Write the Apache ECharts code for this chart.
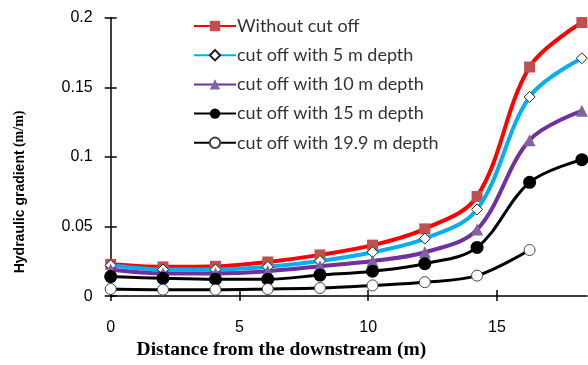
<!DOCTYPE html>
<html>
<head>
<meta charset="utf-8">
<script src="https://cdn.jsdelivr.net/npm/echarts@6/dist/echarts.min.js"></script>
<style>
  html, body { margin: 0; padding: 0; background: #fff; }
  #chart { width: 588px; height: 365px; }
</style>
</head>
<body>
<div id="chart"></div>
<script>
// Distance from the downstream toe (m)
const distance = [0, 2.03, 4.07, 6.1, 8.13, 10.17, 12.2, 14.23, 16.27, 18.3];

// Hydraulic gradient (m/m) for each cut-off case
const noCutoff   = [0.0228, 0.0210, 0.0214, 0.0245, 0.0296, 0.0366, 0.0483, 0.0716, 0.1646, 0.1965];
const cutoff5m   = [0.0221, 0.0191, 0.0191, 0.0210, 0.0252, 0.0315, 0.0413, 0.0623, 0.1431, 0.1709];
const cutoff10m  = [0.0191, 0.0163, 0.0163, 0.0179, 0.0214, 0.0252, 0.0315, 0.0478, 0.1120, 0.1331];
const cutoff15m  = [0.0140, 0.0128, 0.0121, 0.0121, 0.0151, 0.0179, 0.0233, 0.0350, 0.0817, 0.0980];
const cutoff199m = [0.0051, 0.0046, 0.0046, 0.0051, 0.0058, 0.0077, 0.0100, 0.0147, 0.0331];

const seriesNames = [
  'Without cut off',
  'cut off with 5 m depth',
  'cut off with 10 m depth',
  'cut off with 15 m depth',
  'cut off with 19.9 m depth'
];

const xTicks = [0, 5, 10, 15];

function pairs(ys) {
  return ys.map((y, i) => [distance[i], y]);
}

const chart = echarts.init(document.getElementById('chart'), null, { renderer: 'canvas' });

const axisFont = { fontFamily: 'Liberation Sans', fontSize: 16, color: '#000' };

function line(name, ys, lineColor, lineWidth, symbol, symbolSize, fill, border, z) {
  return {
    name: name,
    type: 'line',
    data: pairs(ys),
    smooth: 0.35,
    symbol: symbol,
    symbolSize: symbolSize,
    showAllSymbol: true,
    z: z,
    lineStyle: { color: lineColor, width: lineWidth },
    itemStyle: { color: fill, borderColor: border, borderWidth: border ? 1 : 0 },
    emphasis: { disabled: true }
  };
}

chart.setOption({
  animation: false,
  backgroundColor: '#fff',
  grid: { left: 110.7, right: 1, top: 17.7, bottom: 61.7, containLabel: false },
  legend: {
    orient: 'vertical',
    left: 193,
    top: 17,
    padding: 0,
    itemWidth: 42,
    itemHeight: 13,
    itemGap: 11.2,
    textStyle: { fontFamily: 'Lato', fontSize: 18, color: '#333', lineHeight: 18, padding: [0, 0, 0, -4] },
    data: seriesNames
  },
  xAxis: [
    {
      type: 'value', min: 0, max: 18.5, position: 'bottom',
      axisLine: { show: true, lineStyle: { color: '#000', width: 1.5 } },
      axisTick: { show: true, inside: false, length: 5, customValues: xTicks, lineStyle: { color: '#000', width: 1.5 } },
      axisLabel: { show: true, customValues: xTicks, margin: 23, ...axisFont },
      splitLine: { show: false },
      name: 'Distance from the downstream (m)',
      nameLocation: 'middle',
      nameGap: 31,
      nameTextStyle: { fontFamily: 'Liberation Serif', fontWeight: 'bold', fontSize: 19.5, color: '#000', padding: [0, 135, 0, 0] }
    },
    {
      type: 'value', min: 0, max: 18.5, position: 'bottom',
      axisLine: { show: false },
      axisTick: { show: true, inside: true, length: 6, customValues: xTicks, lineStyle: { color: '#000', width: 1.5 } },
      axisLabel: { show: false },
      splitLine: { show: false }
    }
  ],
  yAxis: [
    {
      type: 'value', min: 0, max: 0.2, interval: 0.05, position: 'left',
      axisLine: { show: true, lineStyle: { color: '#000', width: 1.5 } },
      axisTick: { show: true, inside: false, length: 6, lineStyle: { color: '#000', width: 1.5 } },
      axisLabel: { show: true, margin: 18, ...axisFont },
      splitLine: { show: false },
      name: '{b|Hydraulic gradient} {s|(m/m)}',
      nameLocation: 'middle',
      nameRotate: 90,
      nameGap: 84,
      nameTextStyle: {
        padding: [0, 70, 0, 0],
        rich: {
          b: { fontFamily: 'Liberation Sans', fontWeight: 'bold', fontSize: 14, color: '#000' },
          s: { fontFamily: 'Liberation Serif', fontWeight: 'bold', fontSize: 14, color: '#000' }
        }
      }
    },
    {
      type: 'value', min: 0, max: 0.2, interval: 0.05, position: 'left',
      axisLine: { show: false },
      axisTick: { show: true, inside: true, length: 6, lineStyle: { color: '#000', width: 1.5 } },
      axisLabel: { show: false },
      splitLine: { show: false }
    }
  ],
  series: [
    line(seriesNames[0], noCutoff,   '#FF0000', 4, 'rect',     11, '#C0504D', null, 2),
    line(seriesNames[1], cutoff5m,   '#00B0F0', 4, 'diamond',  11, '#FFFFFF', '#222', 3),
    line(seriesNames[2], cutoff10m,  '#7030A0', 4, 'triangle', 12, '#8064A2', null, 4),
    line(seriesNames[3], cutoff15m,  '#000000', 3, 'circle',   13, '#000000', null, 5),
    line(seriesNames[4], cutoff199m, '#000000', 3, 'circle',   11, '#FFFFFF', '#444', 6)
  ]
});
</script>
</body>
</html>
